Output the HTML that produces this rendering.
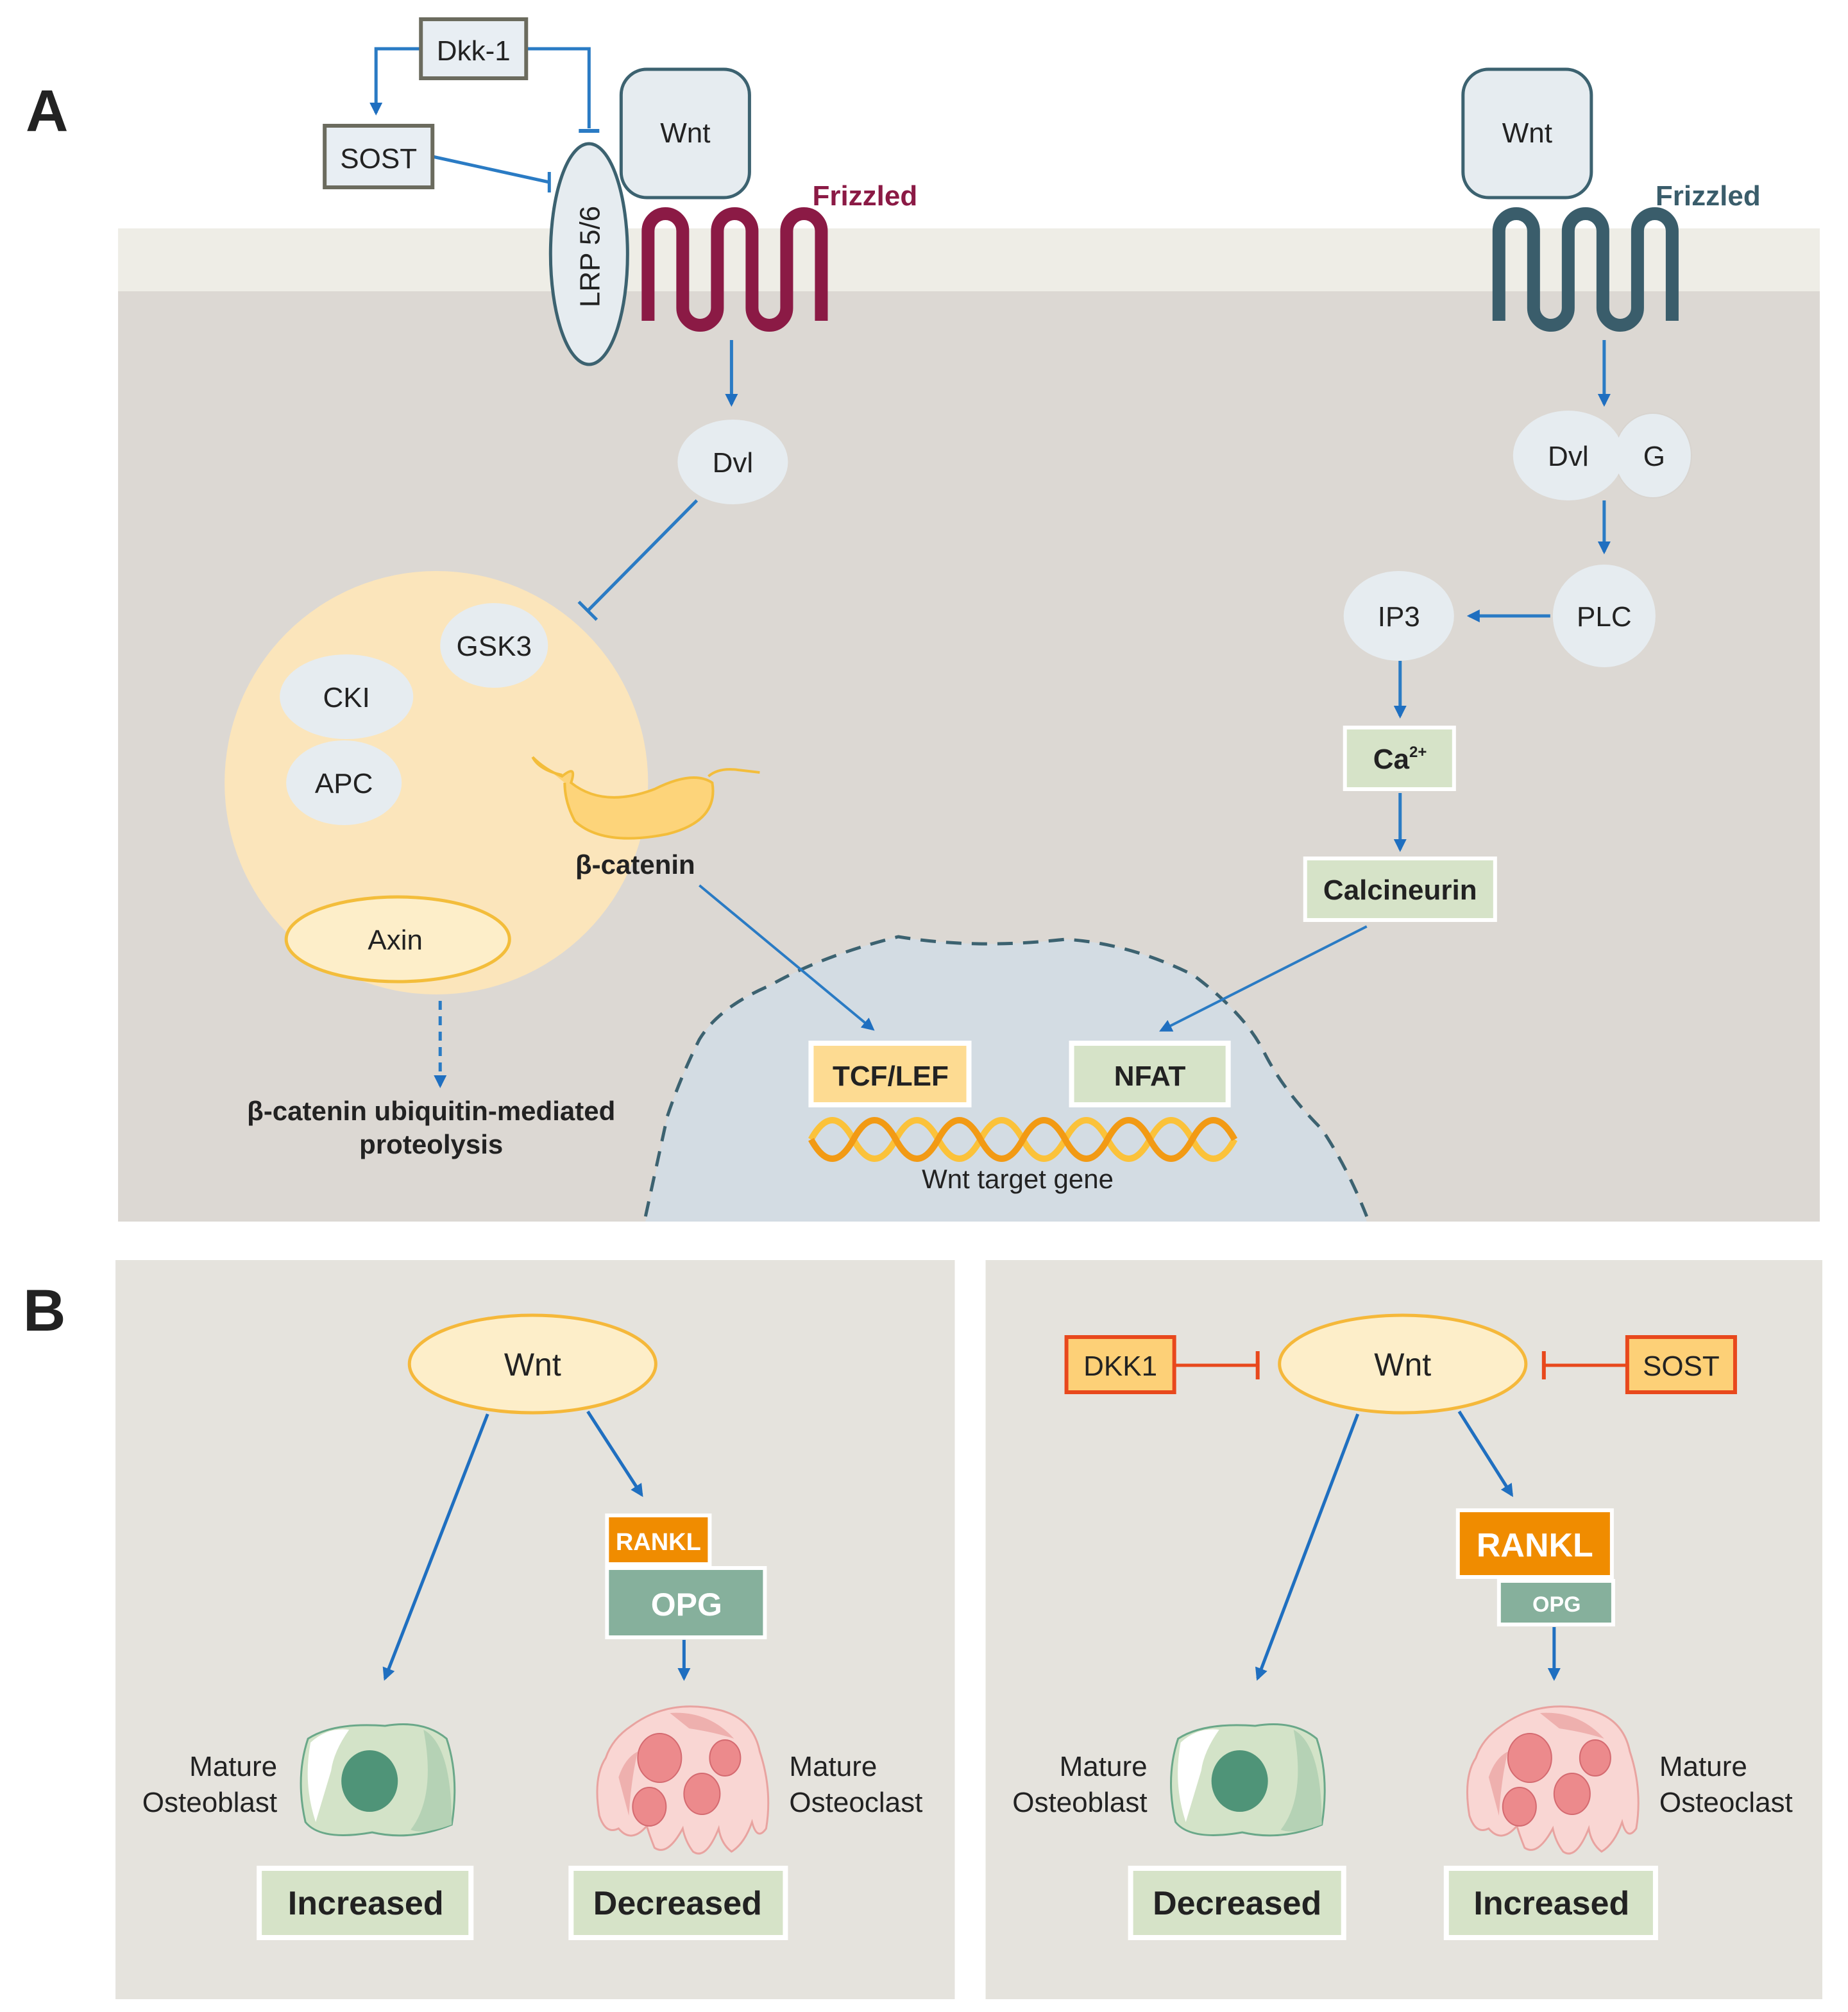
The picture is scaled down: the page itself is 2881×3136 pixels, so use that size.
<!DOCTYPE html>
<html><head><meta charset="utf-8"><style>
html,body{margin:0;padding:0;background:#fff}
svg{display:block}
text{font-family:"Liberation Sans",sans-serif;fill:#222}
</style></head><body>
<svg width="2881" height="3136" viewBox="0 0 1440 1568" preserveAspectRatio="none" xmlns="http://www.w3.org/2000/svg">
<defs>
<marker id="ah" markerWidth="10" markerHeight="10" refX="8" refY="5" orient="auto" markerUnits="userSpaceOnUse"><path d="M0,0 L10,5 L0,10 Z" fill="#1f6fc0"/></marker>
<g id="ob">
<path d="M10,15 Q30,2 70,5 Q100,0 118,15 Q128,45 122,82 Q90,95 60,88 Q20,95 8,80 Q0,45 10,15Z" fill="#d3e3c8" stroke="#6aa889" stroke-width="1.5"/>
<path d="M100,8 Q122,20 122,82 Q100,90 90,86 Q110,60 100,8Z" fill="#b5d2b5"/>
<path d="M12,18 Q25,6 42,8 Q30,25 28,40 Q22,60 16,80 Q6,50 12,18Z" fill="#fff"/>
<ellipse cx="58" cy="48" rx="22" ry="24" fill="#4f9478"/>
</g>
<g id="oc">
<path d="M30,20 Q60,-2 100,8 Q125,15 130,40 Q140,70 135,100 Q128,110 124,95 Q118,112 108,118 Q100,112 98,100 Q88,125 78,118 Q72,110 70,100 Q58,122 48,115 Q44,105 42,98 Q30,112 20,100 Q10,105 5,90 Q0,60 10,45 Q15,30 30,20Z" fill="#f9d6d3" stroke="#e8a3a0" stroke-width="1.5"/>
<path d="M60,10 Q90,8 110,30 Q95,25 75,22Z" fill="#eeb0ae"/>
<path d="M20,60 Q25,45 35,40 Q30,60 28,90Z" fill="#eeb0ae"/>
<ellipse cx="52" cy="45" rx="17" ry="19" fill="#ec8a8c" stroke="#d46a70"/>
<ellipse cx="103" cy="45" rx="12" ry="14" fill="#ec8a8c" stroke="#d46a70"/>
<ellipse cx="44" cy="83" rx="13" ry="15" fill="#ec8a8c" stroke="#d46a70"/>
<ellipse cx="85" cy="73" rx="14" ry="16" fill="#ec8a8c" stroke="#d46a70"/>
</g>
</defs>

<text x="20" y="102" font-size="46" font-weight="bold" fill="#111">A</text>
<rect x="92" y="178" width="1326" height="50" fill="#eeede6"/>
<rect x="92" y="227" width="1326" height="725" fill="#dcd8d3"/>

<polyline points="327,38 293,38 293,88" fill="none" stroke="#2a7bc4" stroke-width="2.5" marker-end="url(#ah)"/>
<polyline points="410,38 459,38 459,100" fill="none" stroke="#2a7bc4" stroke-width="2.5"/>
<line x1="451" y1="102" x2="467" y2="102" stroke="#2a7bc4" stroke-width="3"/>
<line x1="337" y1="122" x2="428" y2="142" stroke="#2a7bc4" stroke-width="2.5"/>
<line x1="428" y1="134" x2="428" y2="150" stroke="#2a7bc4" stroke-width="2.5"/>
<rect x="328" y="15" width="82" height="46" fill="#e8eef3" stroke="#6b6b5e" stroke-width="3"/>
<text x="369" y="47" font-size="22" text-anchor="middle">Dkk-1</text>
<rect x="253" y="98" width="84" height="48" fill="#e8eef3" stroke="#6b6b5e" stroke-width="3"/>
<text x="295" y="131" font-size="22" text-anchor="middle">SOST</text>

<rect x="484" y="54" width="100" height="100" rx="20" fill="#e6ecf0" stroke="#3c6270" stroke-width="2.5"/>
<text x="534" y="111" font-size="22" text-anchor="middle">Wnt</text>
<ellipse cx="459" cy="198" rx="30" ry="86" fill="#e6ecf0" stroke="#3c6270" stroke-width="2.5"/>
<text x="0" y="0" font-size="22" text-anchor="middle" transform="translate(467,200) rotate(-90)">LRP 5/6</text>
<path d="M505,250 V180 A13.5,13.5 0 0 1 532,180 V240 A13.5,13.5 0 0 0 559,240 V180 A13.5,13.5 0 0 1 586,180 V240 A13.5,13.5 0 0 0 613,240 V180 A13.5,13.5 0 0 1 640,180 V250" fill="none" stroke="#8b1a45" stroke-width="10"/>
<text x="633" y="160" font-size="22" font-weight="bold" style="fill:#8b1a45">Frizzled</text>

<line x1="570" y1="265" x2="570" y2="315" stroke="#2a7bc4" stroke-width="2.5" marker-end="url(#ah)"/>
<ellipse cx="571" cy="360" rx="43" ry="33" fill="#e6ecf0"/>
<text x="571" y="368" font-size="22" text-anchor="middle">Dvl</text>
<line x1="543" y1="390" x2="458" y2="476" stroke="#2a7bc4" stroke-width="2.5"/>
<line x1="451" y1="469" x2="465" y2="483" stroke="#2a7bc4" stroke-width="2.5"/>

<circle cx="340" cy="610" r="165" fill="#fbe5bb"/>
<ellipse cx="385" cy="503" rx="42" ry="33" fill="#e6ecf0"/>
<text x="385" y="511" font-size="22" text-anchor="middle">GSK3</text>
<ellipse cx="270" cy="543" rx="52" ry="33" fill="#e6ecf0"/>
<text x="270" y="551" font-size="22" text-anchor="middle">CKI</text>
<ellipse cx="268" cy="610" rx="45" ry="33" fill="#e6ecf0"/>
<text x="268" y="618" font-size="22" text-anchor="middle">APC</text>
<ellipse cx="310" cy="732" rx="87" ry="33" fill="#fdeec9" stroke="#f3bd3b" stroke-width="2.5"/>
<text x="308" y="740" font-size="22" text-anchor="middle">Axin</text>
<path d="M415,590 Q425,600 438,605 Q450,595 445,610 Q470,630 510,615 Q540,600 555,610 Q560,640 520,650 Q470,660 448,640 Q440,625 440,610" fill="#fdd47a" stroke="#f3bd3b" stroke-width="2"/>
<path d="M415,590 Q420,600 438,604 M552,605 Q560,598 575,600 L592,602" fill="none" stroke="#f3bd3b" stroke-width="2"/>
<text x="495" y="681" font-size="21" font-weight="bold" text-anchor="middle">β-catenin</text>
<line x1="343" y1="780" x2="343" y2="846" stroke="#2a7bc4" stroke-width="2.5" stroke-dasharray="7,5" marker-end="url(#ah)"/>
<text x="336" y="873" font-size="21" font-weight="bold" text-anchor="middle">β-catenin ubiquitin-mediated</text>
<text x="336" y="899" font-size="21" font-weight="bold" text-anchor="middle">proteolysis</text>

<path d="M503,952 L520,870 Q530,840 545,810 Q560,785 600,768 Q640,745 700,730 Q760,740 830,732 Q880,735 930,760 Q970,790 985,820 Q1000,850 1030,880 Q1050,910 1065,952 Z" fill="#d3dce3"/>
<path d="M503,948 L520,870 Q530,840 545,810 Q560,785 600,768 Q640,745 700,730 Q760,740 830,732 Q880,735 930,760 Q970,790 985,820 Q1000,850 1030,880 Q1050,910 1065,948" fill="none" stroke="#3c6270" stroke-width="2.5" stroke-dasharray="12,8"/>

<line x1="545" y1="690" x2="680" y2="802" stroke="#2a7bc4" stroke-width="2" marker-end="url(#ah)"/>
<line x1="1065" y1="722" x2="905" y2="803" stroke="#2a7bc4" stroke-width="2" marker-end="url(#ah)"/>
<rect x="632" y="813" width="123" height="48" fill="#fddb92" stroke="#fff" stroke-width="4"/>
<text x="694" y="846" font-size="22" font-weight="bold" text-anchor="middle">TCF/LEF</text>
<rect x="835" y="813" width="122" height="48" fill="#d6e3c8" stroke="#fff" stroke-width="4"/>
<text x="896" y="846" font-size="22" font-weight="bold" text-anchor="middle">NFAT</text>
<path d="M632,888 q16.5,-30 33,0 t33,0 t33,0 t33,0 t33,0 t33,0 t33,0 t33,0 t33,0 t33,0" fill="none" stroke="#fbc23a" stroke-width="5"/>
<path d="M632,888 q16.5,30 33,0 t33,0 t33,0 t33,0 t33,0 t33,0 t33,0 t33,0 t33,0 t33,0" fill="none" stroke="#f29a14" stroke-width="5"/>
<text x="793" y="926" font-size="21" text-anchor="middle">Wnt target gene</text>

<rect x="1140" y="54" width="100" height="100" rx="20" fill="#e6ecf0" stroke="#3c6270" stroke-width="2.5"/>
<text x="1190" y="111" font-size="22" text-anchor="middle">Wnt</text>
<path d="M1168,250 V180 A13.5,13.5 0 0 1 1195,180 V240 A13.5,13.5 0 0 0 1222,240 V180 A13.5,13.5 0 0 1 1249,180 V240 A13.5,13.5 0 0 0 1276,240 V180 A13.5,13.5 0 0 1 1303,180 V250" fill="none" stroke="#3a5d6b" stroke-width="10"/>
<text x="1290" y="160" font-size="22" font-weight="bold" style="fill:#3a5d6b">Frizzled</text>
<line x1="1250" y1="265" x2="1250" y2="315" stroke="#2a7bc4" stroke-width="2.5" marker-end="url(#ah)"/>
<ellipse cx="1288" cy="355" rx="30" ry="33" fill="#e6ecf0" stroke="#d8d4cf" stroke-width="1"/>
<ellipse cx="1222" cy="355" rx="43" ry="35" fill="#e6ecf0"/>
<text x="1222" y="363" font-size="22" text-anchor="middle">Dvl</text>
<text x="1289" y="363" font-size="22" text-anchor="middle">G</text>
<line x1="1250" y1="390" x2="1250" y2="430" stroke="#2a7bc4" stroke-width="2.5" marker-end="url(#ah)"/>
<circle cx="1250" cy="480" r="40" fill="#e6ecf0"/>
<text x="1250" y="488" font-size="22" text-anchor="middle">PLC</text>
<ellipse cx="1090" cy="480" rx="43" ry="35" fill="#e6ecf0"/>
<text x="1090" y="488" font-size="22" text-anchor="middle">IP3</text>
<line x1="1208" y1="480" x2="1145" y2="480" stroke="#2a7bc4" stroke-width="2.5" marker-end="url(#ah)"/>
<line x1="1091" y1="515" x2="1091" y2="558" stroke="#2a7bc4" stroke-width="2.5" marker-end="url(#ah)"/>
<rect x="1048" y="567" width="85" height="48" fill="#d6e3c8" stroke="#fff" stroke-width="3"/>
<text x="1070" y="599" font-size="22" font-weight="bold">Ca<tspan font-size="12" dy="-9">2+</tspan></text>
<line x1="1091" y1="618" x2="1091" y2="662" stroke="#2a7bc4" stroke-width="2.5" marker-end="url(#ah)"/>
<rect x="1017" y="669" width="148" height="48" fill="#d6e3c8" stroke="#fff" stroke-width="3"/>
<text x="1091" y="701" font-size="22" font-weight="bold" text-anchor="middle">Calcineurin</text>

<text x="18" y="1037" font-size="46" font-weight="bold" fill="#111">B</text>
<rect x="90" y="982" width="654" height="576" fill="#e5e3dd"/>
<rect x="768" y="982" width="652" height="576" fill="#e5e3dd"/>

<line x1="380" y1="1102" x2="300" y2="1308" stroke="#1f6fc0" stroke-width="2.5" marker-end="url(#ah)"/>
<line x1="458" y1="1100" x2="500" y2="1165" stroke="#1f6fc0" stroke-width="2.5" marker-end="url(#ah)"/>
<ellipse cx="415" cy="1063" rx="96" ry="38" fill="#fdeec9" stroke="#f5b83a" stroke-width="2.5"/>
<text x="415" y="1072" font-size="25" text-anchor="middle">Wnt</text>
<rect x="473" y="1181" width="80" height="38" fill="#f08c00" stroke="#fff" stroke-width="3"/>
<text x="513" y="1208" font-size="19" font-weight="bold" text-anchor="middle" style="fill:#fff">RANKL</text>
<rect x="473" y="1222" width="123" height="54" fill="#86b09c" stroke="#fff" stroke-width="3"/>
<text x="535" y="1259" font-size="25" font-weight="bold" text-anchor="middle" style="fill:#fff">OPG</text>
<line x1="533" y1="1278" x2="533" y2="1308" stroke="#1f6fc0" stroke-width="2.5" marker-end="url(#ah)"/>
<use href="#ob" transform="translate(230,1340)"/>
<use href="#oc" transform="translate(462,1325)"/>
<text x="216" y="1384" font-size="22" text-anchor="end">Mature</text>
<text x="216" y="1412" font-size="22" text-anchor="end">Osteoblast</text>
<text x="615" y="1384" font-size="22">Mature</text>
<text x="615" y="1412" font-size="22">Osteoclast</text>
<rect x="202" y="1456" width="165" height="54" fill="#d6e3c8" stroke="#fff" stroke-width="4"/>
<text x="285" y="1492" font-size="26" font-weight="bold" text-anchor="middle">Increased</text>
<rect x="445" y="1456" width="167" height="54" fill="#d6e3c8" stroke="#fff" stroke-width="4"/>
<text x="528" y="1492" font-size="26" font-weight="bold" text-anchor="middle">Decreased</text>

<line x1="915" y1="1064" x2="980" y2="1064" stroke="#e8481c" stroke-width="2.5"/>
<line x1="980" y1="1053" x2="980" y2="1075" stroke="#e8481c" stroke-width="3"/>
<line x1="1203" y1="1064" x2="1268" y2="1064" stroke="#e8481c" stroke-width="2.5"/>
<line x1="1203" y1="1053" x2="1203" y2="1075" stroke="#e8481c" stroke-width="3"/>
<rect x="831" y="1042" width="84" height="43" fill="#fdd077" stroke="#e8481c" stroke-width="3"/>
<text x="873" y="1072" font-size="22" text-anchor="middle">DKK1</text>
<rect x="1268" y="1042" width="84" height="43" fill="#fdd077" stroke="#e8481c" stroke-width="3"/>
<text x="1310" y="1072" font-size="22" text-anchor="middle">SOST</text>
<line x1="1058" y1="1102" x2="980" y2="1308" stroke="#1f6fc0" stroke-width="2.5" marker-end="url(#ah)"/>
<line x1="1137" y1="1100" x2="1178" y2="1165" stroke="#1f6fc0" stroke-width="2.5" marker-end="url(#ah)"/>
<ellipse cx="1093" cy="1063" rx="96" ry="38" fill="#fdeec9" stroke="#f5b83a" stroke-width="2.5"/>
<text x="1093" y="1072" font-size="25" text-anchor="middle">Wnt</text>
<rect x="1168" y="1232" width="89" height="34" fill="#86b09c" stroke="#fff" stroke-width="3"/>
<text x="1213" y="1256" font-size="17" font-weight="bold" text-anchor="middle" style="fill:#fff">OPG</text>
<rect x="1136" y="1177" width="120" height="52" fill="#f08c00" stroke="#fff" stroke-width="3"/>
<text x="1196" y="1213" font-size="26" font-weight="bold" text-anchor="middle" style="fill:#fff">RANKL</text>
<line x1="1211" y1="1268" x2="1211" y2="1308" stroke="#1f6fc0" stroke-width="2.5" marker-end="url(#ah)"/>
<use href="#ob" transform="translate(908,1340)"/>
<use href="#oc" transform="translate(1140,1325)"/>
<text x="894" y="1384" font-size="22" text-anchor="end">Mature</text>
<text x="894" y="1412" font-size="22" text-anchor="end">Osteoblast</text>
<text x="1293" y="1384" font-size="22">Mature</text>
<text x="1293" y="1412" font-size="22">Osteoclast</text>
<rect x="881" y="1456" width="166" height="54" fill="#d6e3c8" stroke="#fff" stroke-width="4"/>
<text x="964" y="1492" font-size="26" font-weight="bold" text-anchor="middle">Decreased</text>
<rect x="1127" y="1456" width="163" height="54" fill="#d6e3c8" stroke="#fff" stroke-width="4"/>
<text x="1209" y="1492" font-size="26" font-weight="bold" text-anchor="middle">Increased</text>
</svg>
</body></html>
